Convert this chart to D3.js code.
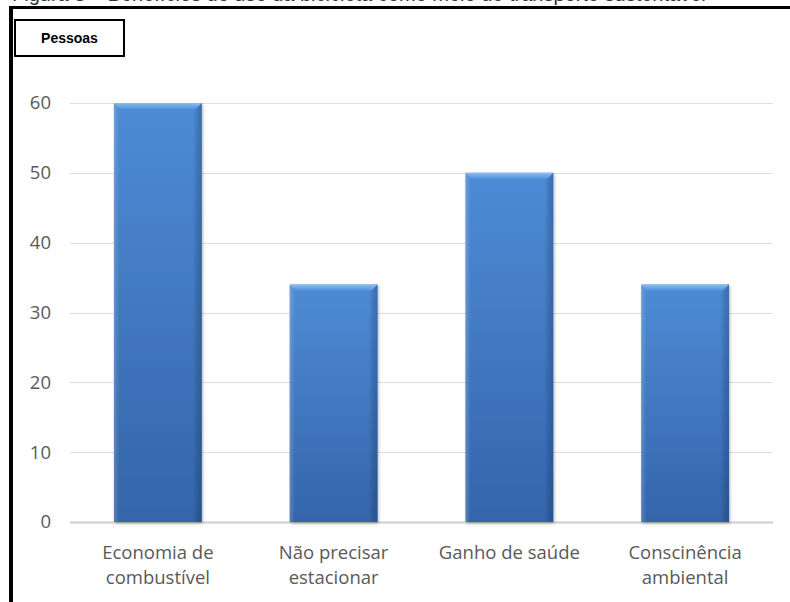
<!DOCTYPE html>
<html>
<head>
<meta charset="utf-8">
<script src="https://cdn.jsdelivr.net/npm/d3@7"></script>
<style>
  html, body { margin: 0; padding: 0; background: #fff; }
  svg { display: block; }
</style>
</head>
<body>
<script>
// Chart data
const categories = [
  ["Economia de", "combustível"],
  ["Não precisar", "estacionar"],
  ["Ganho de saúde"],
  ["Conscinência", "ambiental"]
];
const values = [60, 34, 50, 34];
const yTicks = [0, 10, 20, 30, 40, 50, 60];
const yLabel = "Pessoas";
const caption = "Figura 3 – Benefícios do uso da bicicleta como meio de transporte sustentável";

const W = 790, H = 602;
const FONT = "'Open Sans', 'DejaVu Sans', sans-serif";
const svg = d3.select("body").append("svg").attr("width", W).attr("height", H);

const defs = svg.append("defs");
const vg = defs.append("linearGradient").attr("id", "barV").attr("x1", 0).attr("y1", 0).attr("x2", 0).attr("y2", 1);
vg.append("stop").attr("offset", "0%").attr("stop-color", "#4e8bd6");
vg.append("stop").attr("offset", "100%").attr("stop-color", "#3465ab");
const hg = defs.append("linearGradient").attr("id", "barH").attr("x1", 0).attr("y1", 0).attr("x2", 1).attr("y2", 0);
hg.append("stop").attr("offset", "0%").attr("stop-color", "#ffffff").attr("stop-opacity", 0.18);
hg.append("stop").attr("offset", "6%").attr("stop-color", "#ffffff").attr("stop-opacity", 0.0);
hg.append("stop").attr("offset", "90%").attr("stop-color", "#000000").attr("stop-opacity", 0.0);
hg.append("stop").attr("offset", "100%").attr("stop-color", "#0a2a5a").attr("stop-opacity", 0.3);
const tg = defs.append("linearGradient").attr("id", "barTop").attr("x1", 0).attr("y1", 0).attr("x2", 0).attr("y2", 1);
tg.append("stop").attr("offset", "0%").attr("stop-color", "#8cbcf0");
tg.append("stop").attr("offset", "100%").attr("stop-color", "#5592dc");
const sh = defs.append("filter").attr("id", "shadow").attr("x", "-20%").attr("y", "-5%").attr("width", "140%").attr("height", "115%");
sh.append("feDropShadow").attr("dx", 1).attr("dy", 1.5).attr("stdDeviation", 1.5).attr("flood-color", "#000").attr("flood-opacity", 0.3);

// Caption above the frame, running off the top edge
svg.append("text")
  .attr("x", 12).attr("y", 0.5)
  .attr("font-family", "Arial, 'Liberation Sans', sans-serif")
  .attr("font-size", 20)
  .attr("fill", "#333")
  .text(caption);

// Outer frame
svg.append("line").attr("x1", 9).attr("x2", W).attr("y1", 7.5).attr("y2", 7.5)
  .attr("stroke", "#000").attr("stroke-width", 3);
svg.append("line").attr("x1", 11).attr("x2", 11).attr("y1", 6).attr("y2", H)
  .attr("stroke", "#000").attr("stroke-width", 4);

// Scales
const x = d3.scaleBand().domain(d3.range(categories.length)).range([70, 773]).paddingInner(0.5).paddingOuter(0.25);
const y = d3.scaleLinear().domain([0, 60]).range([522, 103]);

// Gridlines
const grid = svg.append("g").attr("class", "grid");
grid.selectAll("line").data(yTicks).join("line")
  .attr("x1", 70).attr("x2", 773)
  .attr("y1", d => Math.round(y(d)) + 0.5).attr("y2", d => Math.round(y(d)) + 0.5)
  .attr("stroke", d => d === 0 ? "#cfcfcf" : "#dedede")
  .attr("stroke-width", d => d === 0 ? 2 : 1);

// Y axis labels
const yAxis = svg.append("g").attr("transform", "translate(51,0)")
  .call(d3.axisLeft(y).tickValues(yTicks).tickSize(0).tickPadding(0));
yAxis.select(".domain").remove();
yAxis.selectAll("text")
  .attr("font-family", FONT)
  .attr("font-size", 18.5).attr("fill", "#595959");

// Bars
const bars = svg.append("g").selectAll("g").data(values).join("g")
  .attr("filter", "url(#shadow)");
bars.append("rect")
  .attr("x", (d, i) => x(i)).attr("width", x.bandwidth())
  .attr("y", d => y(d)).attr("height", d => y(0) - y(d))
  .attr("fill", "url(#barV)");
bars.append("rect")
  .attr("x", (d, i) => x(i)).attr("width", x.bandwidth())
  .attr("y", d => y(d)).attr("height", d => y(0) - y(d))
  .attr("fill", "url(#barH)");
// Bevelled top edge
bars.append("path")
  .attr("d", (d, i) => {
    const x0 = x(i), x1 = x(i) + x.bandwidth(), yt = y(d), b = 6;
    return `M${x0},${yt}L${x1},${yt}L${x1 - b},${yt + b}L${x0 + b},${yt + b}Z`;
  })
  .attr("fill", "url(#barTop)");

// Category labels
const xLabels = svg.append("g").selectAll("text").data(categories).join("text")
  .attr("x", (d, i) => x(i) + x.bandwidth() / 2)
  .attr("y", 559)
  .attr("text-anchor", "middle")
  .attr("font-family", FONT)
  .attr("font-size", 18.5).attr("fill", "#595959");
xLabels.selectAll("tspan").data(d => d).join("tspan")
  .attr("x", function() { return d3.select(this.parentNode).attr("x"); })
  .attr("dy", (d, j) => j === 0 ? 0 : 25)
  .text(d => d);

// Y label box
svg.append("rect").attr("x", 15).attr("y", 20).attr("width", 109).attr("height", 36)
  .attr("fill", "#fff").attr("stroke", "#000").attr("stroke-width", 2);
svg.append("text").attr("x", 69.5).attr("y", 43)
  .attr("text-anchor", "middle")
  .attr("font-family", "Arial, 'Liberation Sans', sans-serif")
  .attr("font-weight", "bold").attr("font-size", 14).attr("fill", "#000")
  .text(yLabel);
</script>
</body>
</html>
